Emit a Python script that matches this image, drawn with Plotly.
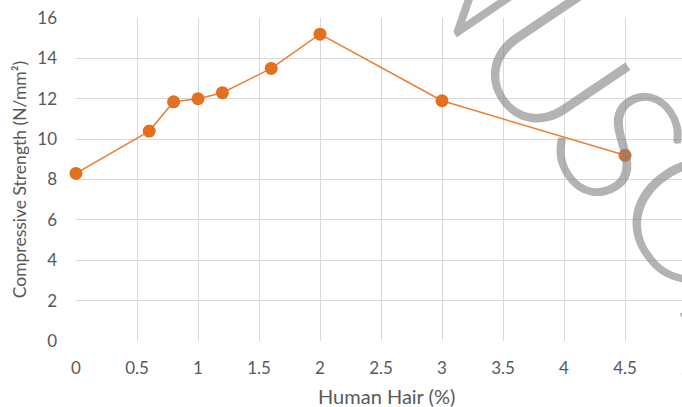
import plotly.graph_objects as go

# Human hair content (%) vs compressive strength (N/mm²)
hair_pct = [0, 0.6, 0.8, 1.0, 1.2, 1.6, 2.0, 3.0, 4.5]
strength = [8.3, 10.4, 11.85, 12.0, 12.3, 13.5, 15.2, 11.9, 9.2]

x_ticks = [0, 0.5, 1, 1.5, 2, 2.5, 3, 3.5, 4, 4.5]
x_ticktext = ["0", "0.5", "1", "1.5", "2", "2.5", "3", "3.5", "4", "4.5"]
y_ticks = [0, 2, 4, 6, 8, 10, 12, 14, 16]

W, H = 682, 407
ML, MT, MB = 76, 18, 66
PW, PH = W - ML, H - MT - MB
PX_PER_UNIT = 122.0
X_MAX = PW / PX_PER_UNIT

TEXT = "#595959"
GRID = "#D9D9D9"
ORANGE = "#ED7D31"
FONT = "Lato, 'Open Sans', sans-serif"


def paper_x(px):
    return (px - ML) / PW


def paper_y(py):
    return (H - MB - py) / PH


fig = go.Figure()
fig.add_trace(go.Scatter(
    x=hair_pct, y=strength, mode="lines+markers",
    line=dict(color=ORANGE, width=1.5),
    marker=dict(color="#E2701F", size=13, line=dict(width=0)),
    cliponaxis=False, showlegend=False,
))

annotations = [
    # last x tick label, cut by the page edge
    dict(text="5", xref="paper", yref="paper",
         x=paper_x(ML + 5 * PX_PER_UNIT), y=paper_y(368),
         xanchor="center", yanchor="middle", showarrow=False,
         font=dict(family=FONT, size=17, color=TEXT)),
    # x axis title, centred under the full 0-5 axis span
    dict(text="Human Hair (%)", xref="paper", yref="paper",
         x=paper_x(386), y=paper_y(396),
         xanchor="center", yanchor="middle", showarrow=False,
         font=dict(family=FONT, size=20, color=TEXT)),
]

# diagonal "MANUSCRIPT" watermark across the right side
wm_letters = ["N", "U", "S", "C", "R"]
wm_centres = [(486, -41), (558, 62), (625, 140), (696, 208), (756, 304)]
for ch, (cx, cy) in zip(wm_letters, wm_centres):
    annotations.append(dict(
        text=ch, xref="paper", yref="paper", x=paper_x(cx), y=paper_y(cy),
        xanchor="center", yanchor="middle", showarrow=False, textangle=56,
        font=dict(family=FONT, size=176, color="rgba(128,128,128,0.6)", weight=300),
    ))

fig.update_layout(
    width=W, height=H,
    margin=dict(l=ML, r=0, t=MT, b=MB, pad=0),
    paper_bgcolor="white", plot_bgcolor="white",
    font=dict(family=FONT, color=TEXT),
    xaxis=dict(
        range=[0, X_MAX], tickmode="array", tickvals=x_ticks, ticktext=x_ticktext,
        showgrid=True, gridcolor=GRID, gridwidth=1, zeroline=False, showline=False,
        ticks="", tickfont=dict(family=FONT, size=17, color=TEXT),
        ticklabelstandoff=15,
        automargin=False,
    ),
    yaxis=dict(
        range=[0, 16], tickmode="array", tickvals=y_ticks,
        showgrid=True, gridcolor=GRID, gridwidth=1, zeroline=False, showline=False,
        ticks="", tickfont=dict(family=FONT, size=17, color=TEXT),
        ticklabelstandoff=18,
        title=dict(text="Compressive Strength (N/mm²)",
                   font=dict(family=FONT, size=17.5, color=TEXT), standoff=6),
        automargin=False,
    ),
    annotations=annotations,
)

fig.write_html("out.html")
